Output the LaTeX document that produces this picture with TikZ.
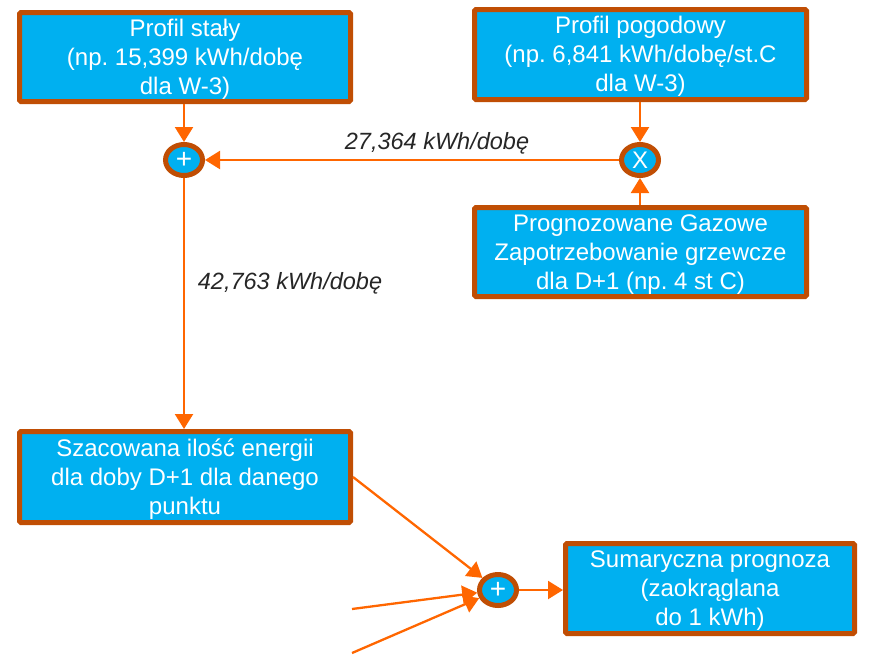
\documentclass[tikz,border=0pt]{standalone}
\usepackage{fontspec}
\setmainfont{Liberation Sans}
\usetikzlibrary{arrows.meta,shapes.geometric}
\frenchspacing
\definecolor{boxfill}{RGB}{0,176,240}
\definecolor{boxline}{RGB}{192,78,4}
\definecolor{arr}{RGB}{255,102,0}
\definecolor{lbl}{RGB}{38,38,38}
\newcommand{\mltext}[1]{\raisebox{-2.5pt}[\height][\depth]{\begin{tabular}{@{}c@{}}#1\end{tabular}}}
\tikzset{
  box/.style={rectangle, rounded corners=1.5pt, draw=boxline, line width=5pt, fill=boxfill,
    text=white, inner sep=0pt, font=\fontsize{24}{29}\selectfont},
  op/.style={ellipse, draw=boxline, line width=5pt, fill=boxfill, text=white,
    minimum width=37pt, minimum height=31pt, inner sep=0pt, font=\fontsize{24}{24}\selectfont},
  conn/.style={draw=arr, line width=2.3pt, -{Triangle[length=15pt,width=18pt]}},
  lab/.style={text=lbl, font=\fontsize{23.5}{24}\selectfont\itshape, inner sep=0pt}
}
\begin{document}
\begin{tikzpicture}[x=1pt,y=-1pt]
\useasboundingbox (0,0) rectangle (872,654);
\node[box, minimum width=331pt, minimum height=89pt] (b1) at (185,57) {\mltext{Profil stały\\(np. 15,399 kWh/dobę\\dla W-3)}};
\node[box, minimum width=332pt, minimum height=90pt] (b2) at (640.5,54.5) {\mltext{Profil pogodowy\\(np. 6,841 kWh/dobę/st.C\\dla W-3)}};
\node[box, minimum width=332pt, minimum height=89pt] (b3) at (640.5,252) {\mltext{Prognozowane Gazowe\\Zapotrzebowanie grzewcze\\dla D+1 (np. 4 st C)}};
\node[box, minimum width=331pt, minimum height=91pt] (b4) at (185,477) {\mltext{Szacowana ilość energii\\dla doby D+1 dla danego\\punktu}};
\node[box, minimum width=289pt, minimum height=90pt] (b5) at (710,588.5) {\mltext{Sumaryczna prognoza\\(zaokrąglana\\do 1 kWh)}};
\node[op] (p1) at (184,160) {\raisebox{-1pt}{\fontsize{28}{28}\selectfont +}};
\node[op] (x1) at (640,160) {X};
\node[op] (p2) at (498,590) {\raisebox{-1pt}{\fontsize{28}{28}\selectfont +}};
\coordinate (f1) at (352,609);
\coordinate (f2) at (352,653);
\draw[conn] (b1.south -| p1) -- (p1.north);
\draw[conn] (b2.south -| x1) -- (x1.north);
\draw[conn] (b3.north -| x1) -- (x1.south);
\draw[conn] (x1.west) -- (p1.east);
\draw[conn] (p1.south) -- (b4.north -| p1);
\draw[conn] (b4.east) -- (p2);
\draw[conn] (f1) -- (p2);
\draw[conn] (f2) -- (p2);
\draw[conn] (p2.east) -- (b5.west |- p2);
\node[lab] (l1) at (437,143) {27,364 kWh/dobę};
\node[lab] (l2) at (290,283) {42,763 kWh/dobę};
\end{tikzpicture}
\end{document}
